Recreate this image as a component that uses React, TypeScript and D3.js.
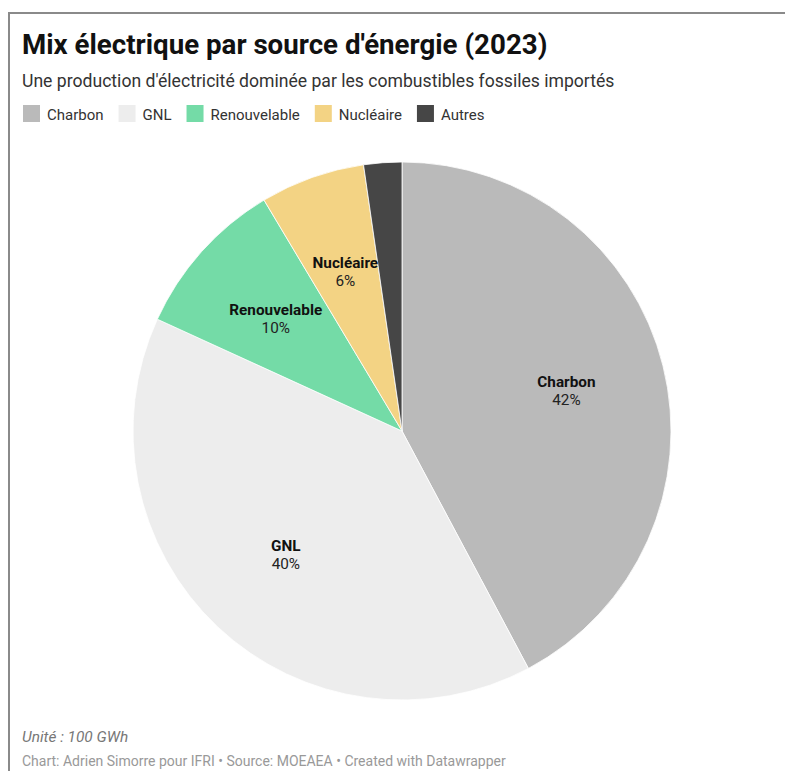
import React, { useEffect, useRef } from "react";
import * as d3 from "d3";

const categories = ["Charbon", "GNL", "Renouvelable", "Nucléaire", "Autres"];
const values = [1182, 1109, 269, 176, 64]; // unit: 100 GWh
const colors = ["#bababa", "#ededed", "#74dba7", "#f3d384", "#464646"];
const showLabel = [true, true, true, true, false];

const title = "Mix électrique par source d'énergie (2023)";
const subtitle = "Une production d'électricité dominée par les combustibles fossiles importés";
const unitNote = "Unité : 100 GWh";
const credits = "Chart: Adrien Simorre pour IFRI • Source: MOEAEA • Created with Datawrapper";

const W = 785;
const H = 771;
const FONT = "Roboto, 'Noto Sans', sans-serif";

export default function App() {
  const ref = useRef<SVGSVGElement | null>(null);

  useEffect(() => {
    const svg = d3.select(ref.current);
    svg.selectAll("*").remove();

    // frame
    svg.append("rect")
      .attr("x", 9).attr("y", 13)
      .attr("width", 900).attr("height", 900)
      .attr("fill", "none").attr("stroke", "#8a8a8a").attr("stroke-width", 2);

    svg.append("text")
      .attr("x", 22).attr("y", 54)
      .attr("font-family", FONT).attr("font-weight", 700).attr("font-size", 27.7)
      .attr("fill", "#111").text(title);

    svg.append("text")
      .attr("x", 22).attr("y", 87)
      .attr("font-family", FONT).attr("font-size", 17.6)
      .attr("fill", "#333").text(subtitle);

    // legend
    const lg = svg.append("g");
    let lx = 23;
    categories.forEach((c, i) => {
      lg.append("rect").attr("x", lx).attr("y", 105).attr("width", 17).attr("height", 17)
        .attr("fill", colors[i]);
      const t = lg.append("text").attr("x", lx + 24).attr("y", 119.5)
        .attr("font-family", FONT).attr("font-size", 15).attr("fill", "#333").text(c);
      const w = (t.node() as SVGTextElement).getComputedTextLength();
      lx = lx + 24 + w + 15;
    });

    // pie
    const cx = 402, cy = 431, R = 269;
    const pie = d3.pie<number>().sort(null).value((d) => d);
    const arcs = pie(values);
    const arc = d3.arc<d3.PieArcDatum<number>>().innerRadius(0).outerRadius(R);
    const labelArc = d3.arc<d3.PieArcDatum<number>>().innerRadius(R * 0.63).outerRadius(R * 0.63);
    const total = d3.sum(values);
    const g = svg.append("g").attr("transform", `translate(${cx},${cy})`);
    g.selectAll("path").data(arcs).join("path")
      .attr("d", arc as any)
      .attr("fill", (_d, i) => colors[i])
      .attr("stroke", "#ffffff").attr("stroke-width", 0.8);

    arcs.forEach((a, i) => {
      if (!showLabel[i]) return;
      const [x, y] = labelArc.centroid(a);
      g.append("text").attr("x", x).attr("y", y - 3)
        .attr("text-anchor", "middle")
        .attr("font-family", FONT).attr("font-weight", 700).attr("font-size", 15.3)
        .attr("fill", "#111").text(categories[i]);
      g.append("text").attr("x", x).attr("y", y + 15)
        .attr("text-anchor", "middle")
        .attr("font-family", FONT).attr("font-size", 15.3)
        .attr("fill", "#222").text(`${Math.round((values[i] / total) * 100)}%`);
    });

    svg.append("text")
      .attr("x", 22).attr("y", 742)
      .attr("font-family", FONT).attr("font-style", "italic").attr("font-size", 15.4)
      .attr("fill", "#777").text(unitNote);

    svg.append("text")
      .attr("x", 22).attr("y", 766)
      .attr("font-family", FONT).attr("font-size", 14)
      .attr("fill", "#999").text(credits);
  }, []);

  return (
    <svg
      ref={ref}
      width={W}
      height={H}
      style={{ position: "absolute", left: 0, top: 0, background: "#fff" }}
    />
  );
}
